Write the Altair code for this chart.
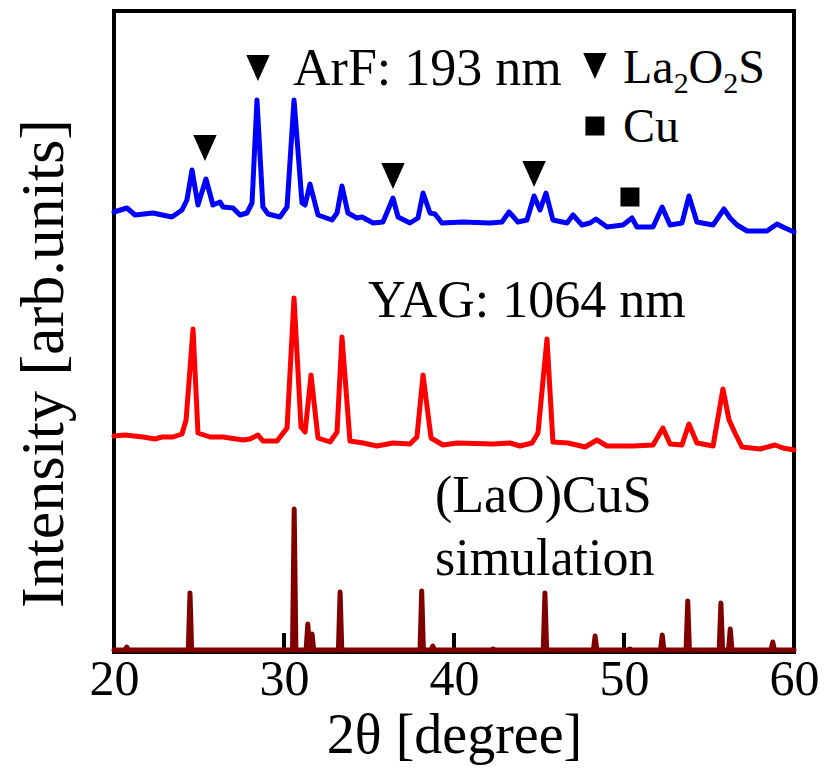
import altair as alt
import pandas as pd

# ---- measured XRD traces (2θ in degrees, intensity in arbitrary units, stacked) ----
arf_two_theta = [20.0, 20.76, 21.24, 22.29, 23.41, 24.00, 24.29, 24.59, 24.94, 25.41,
                 25.82, 26.24, 26.41, 27.00, 27.41, 27.82, 28.12, 28.41, 28.76, 29.06,
                 29.76, 30.18, 30.59, 31.06, 31.24, 31.53, 32.00, 32.82, 33.12, 33.41,
                 33.76, 34.29, 34.59, 35.24, 35.82, 36.12, 36.41, 36.71, 37.41, 37.88,
                 38.18, 38.59, 38.88, 39.29, 40.53, 42.12, 42.82, 43.24, 43.76, 44.29,
                 44.71, 45.06, 45.41, 45.82, 46.65, 47.00, 47.53, 48.00, 48.35, 49.00,
                 49.94, 50.47, 50.76, 51.71, 52.24, 52.71, 53.41, 53.82, 54.29, 55.24,
                 55.88, 56.24, 56.65, 57.24, 58.41, 59.00, 59.47, 60.0]
arf_intensity = [440, 444, 437, 439, 435, 442, 452, 482, 447, 473,
                 447, 450, 445, 444, 437, 439, 449, 552, 445, 438,
                 435, 445, 552, 449, 447, 468, 437, 432, 439, 466,
                 439, 434, 435, 429, 430, 442, 454, 435, 429, 434,
                 459, 439, 438, 429, 430, 429, 430, 440, 430, 432,
                 456, 442, 459, 432, 429, 437, 427, 429, 433, 425,
                 427, 434, 425, 425, 445, 427, 429, 456, 430, 427,
                 443, 434, 427, 421, 421, 428, 424, 420]

yag_two_theta = [20.0, 20.65, 21.71, 22.41, 22.82, 23.47, 24.00, 24.24, 24.65, 24.94,
                 25.65, 26.41, 27.59, 28.00, 28.47, 28.76, 29.59, 30.18, 30.59, 31.00,
                 31.24, 31.59, 32.00, 32.71, 33.12, 33.41, 33.88, 34.65, 35.47, 36.41,
                 37.41, 37.82, 38.18, 38.65, 39.35, 40.18, 42.29, 43.29, 43.88, 44.59,
                 44.94, 45.47, 45.82, 46.71, 47.71, 48.41, 49.00, 50.53, 51.71, 52.29,
                 52.71, 53.41, 53.82, 54.29, 55.24, 55.82, 56.18, 56.53, 56.94, 58.00,
                 58.88, 59.35, 60.0]
yag_intensity = [216, 217, 215, 213, 215, 215, 218, 232, 323, 219,
                 215, 215, 212, 213, 217, 211, 211, 224, 354, 225,
                 220, 277, 214, 210, 220, 315, 211, 209, 206, 209,
                 208, 215, 277, 214, 207, 209, 208, 209, 206, 209,
                 219, 313, 210, 209, 205, 212, 206, 206, 207, 224,
                 208, 207, 228, 209, 206, 263, 232, 219, 205, 203,
                 207, 204, 202]

# ---- simulated (LaO)CuS reflections ----
sim_peak_two_theta = [20.75, 24.47, 30.60, 31.40, 31.65, 33.30, 38.10, 38.75, 42.30,
                      45.35, 48.30, 50.35, 52.25, 53.75, 55.70, 56.25, 58.75]
sim_peak_intensity = [5, 59, 143, 28, 18, 60, 61, 6, 3, 59, 16, 3, 17, 51, 49, 23, 10]
sim_baseline = 2
sim_half_width = 0.1

# ---- phase markers ----
la2o2s_two_theta = [25.35, 28.47, 36.41, 44.71]
la2o2s_level = [504, 584, 476, 478]
cu_two_theta = [50.35]
cu_level = [455]

x_tick_values = [20, 30, 40, 50, 60]

# stick pattern for the simulation: each reflection drawn as a narrow peak
sim_x, sim_y = [20.0], [sim_baseline]
for pos, top in zip(sim_peak_two_theta, sim_peak_intensity):
    sim_x += [pos - sim_half_width, pos, pos + sim_half_width]
    sim_y += [sim_baseline, top, sim_baseline]
sim_x.append(60.0)
sim_y.append(sim_baseline)

SERIF = "'Liberation Serif', 'Times New Roman', Times, 'DejaVu Serif', serif"

x_enc = alt.X(
    "x:Q",
    scale=alt.Scale(domain=[20, 60], nice=False, zero=False),
    axis=alt.Axis(
        values=x_tick_values, format="d", ticks=False, domain=False, grid=False,
        labelFont=SERIF, labelFontSize=50, labelColor="black", labelPadding=2,
        labelFlush=False, labelOverlap=False,
        title="2θ [degree]", titleFont=SERIF, titleFontSize=56,
        titleFontWeight="normal", titleColor="black",
        titleBaseline="alphabetic", titleY=100,
    ),
)
y_enc = alt.Y(
    "y:Q",
    scale=alt.Scale(domain=[0, 641], nice=False, zero=False),
    axis=alt.Axis(
        labels=False, ticks=False, domain=False, grid=False,
        title="Intensity [arb.units]", titleFont=SERIF, titleFontSize=62,
        titleFontWeight="normal", titleColor="black",
        titleBaseline="alphabetic", titleAlign="center", titleAngle=-90,
        titleX=-52, titleY=352,
    ),
)

# inward tick marks on the bottom axis
ticks = alt.Chart(pd.DataFrame({"x": x_tick_values, "y": [0] * 5, "y2": [19] * 5})).mark_rule(
    color="black", strokeWidth=4
).encode(x=x_enc, y=y_enc, y2="y2:Q")


def trace(xs, ys, color):
    return alt.Chart(pd.DataFrame({"x": xs, "y": ys})).mark_line(
        color=color, strokeWidth=5, strokeJoin="round", strokeCap="round"
    ).encode(x=x_enc, y=y_enc)


arf = trace(arf_two_theta, arf_intensity, "#0000ff")
yag = trace(yag_two_theta, yag_intensity, "#ff0000")
sim = trace(sim_x, sim_y, "#800000")

TRIANGLE = "M-0.9,-1L0.9,-1L0,1Z"

tri_df = pd.DataFrame({"x": la2o2s_two_theta + [48.29], "y": la2o2s_level + [586]})
triangles = alt.Chart(tri_df).mark_point(
    shape=TRIANGLE, size=676, filled=True, color="black", opacity=1
).encode(x=x_enc, y=y_enc)

sq_df = pd.DataFrame({"x": cu_two_theta + [48.29], "y": cu_level + [526]})
squares = alt.Chart(sq_df).mark_point(
    shape="square", size=361, filled=True, color="black", opacity=1
).encode(x=x_enc, y=y_enc)


def labels(xs, ys, texts, size):
    return alt.Chart(pd.DataFrame({"x": xs, "y": ys, "t": texts})).mark_text(
        font=SERIF, fontSize=size, align="left", baseline="alphabetic", color="black"
    ).encode(x=x_enc, y=y_enc, text="t:N")


trace_labels = labels(
    [30.53, 34.94, 38.88, 38.88],
    [567, 335, 140, 77],
    ["ArF: 193 nm", "YAG: 1064 nm", "(LaO)CuS", "simulation"],
    52,
)
legend_labels = labels(
    [49.94, 53.80, 56.72, 49.94],
    [569, 569, 569, 510],
    ["La", "O", "S", "Cu"],
    48,
)
legend_subscripts = labels([52.92, 55.84], [559, 559], ["2", "2"], 30)

chart = alt.layer(
    ticks, sim, yag, arf, triangles, squares, trace_labels, legend_labels, legend_subscripts
).properties(
    width=680,
    height=641,
    background="white",
    autosize=alt.AutoSizeParams(type="none"),
    padding={"left": 114, "top": 11, "right": 30, "bottom": 128},
).configure_view(
    stroke="black", strokeWidth=4
)

chart.save("out.html", embed_options={"renderer": "svg", "actions": False})
